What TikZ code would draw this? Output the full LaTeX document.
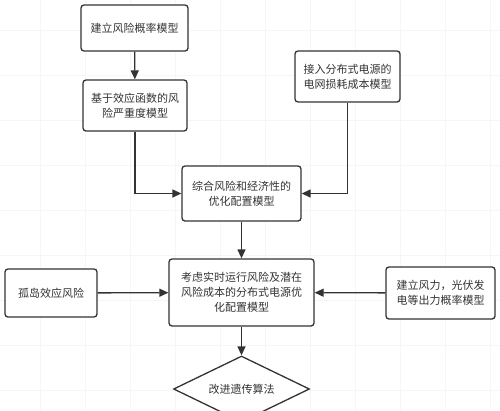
\documentclass[tikz,border=0pt]{standalone}
\usepackage{fontspec}
\setmainfont{Noto Sans CJK SC}
\usetikzlibrary{arrows.meta,shapes.geometric}
\definecolor{edge}{HTML}{333333}
\definecolor{gridc}{HTML}{F6F6F6}
\tikzset{
  box/.style={draw=edge, line width=1.3pt, rounded corners=3pt, fill=white, align=center,
    inner sep=0pt, text=edge, font=\fontsize{11}{15}\selectfont},
  dia/.style={draw=edge, line width=1.3pt, diamond, aspect=2.06, fill=white, align=center,
    inner sep=0pt, text=edge, font=\fontsize{11}{15}\selectfont},
  conn/.style={draw=edge, line width=1.3pt, -{Triangle[length=9pt,width=8pt]}}
}
\begin{document}
\begin{tikzpicture}[x=1pt,y=-1pt]
\useasboundingbox (0,0) rectangle (500,410);
\clip (0,0) rectangle (500,410);
\fill[white] (0,0) rectangle (500,410);
\foreach \gx in {40,85,...,490} \draw[gridc, line width=0.8pt] (\gx,0) -- (\gx,410);
\foreach \gy in {30,75,...,410} \draw[gridc, line width=0.8pt] (0,\gy) -- (500,\gy);
\node[box, minimum width=107pt, minimum height=46pt] (b1) at (134.5,28) {建立风险概率模型};
\node[box, minimum width=104pt, minimum height=51pt] (b2) at (135,105.5) {基于效应函数的风\\险严重度模型};
\node[box, minimum width=119pt, minimum height=55pt] (b3) at (241.5,193.5) {综合风险和经济性的\\优化配置模型};
\node[box, minimum width=105pt, minimum height=51pt] (b4) at (347.5,76.5) {接入分布式电源的\\电网损耗成本模型};
\node[box, minimum width=145pt, minimum height=67pt] (b5) at (241.5,292.5) {考虑实时运行风险及潜在\\风险成本的分布式电源优\\化配置模型};
\node[box, minimum width=92pt, minimum height=48pt] (b6) at (51,293) {孤岛效应风险};
\node[box, minimum width=109pt, minimum height=52pt] (b7) at (440.5,293) {建立风力，光伏发\\电等出力概率模型};
\node[dia, minimum width=136pt, minimum height=66pt] (d1) at (241.5,389) {改进遗传算法};
\draw[conn] (b1) -- (b2);
\draw[conn] (b2.south) |- (b3.west);
\draw[conn] (b4.south) |- (b3.east);
\draw[conn] (b3) -- (b5);
\draw[conn] (b6) -- (b5);
\draw[conn] (b7) -- (b5);
\draw[conn] (b5) -- (d1);
\end{tikzpicture}
\end{document}
